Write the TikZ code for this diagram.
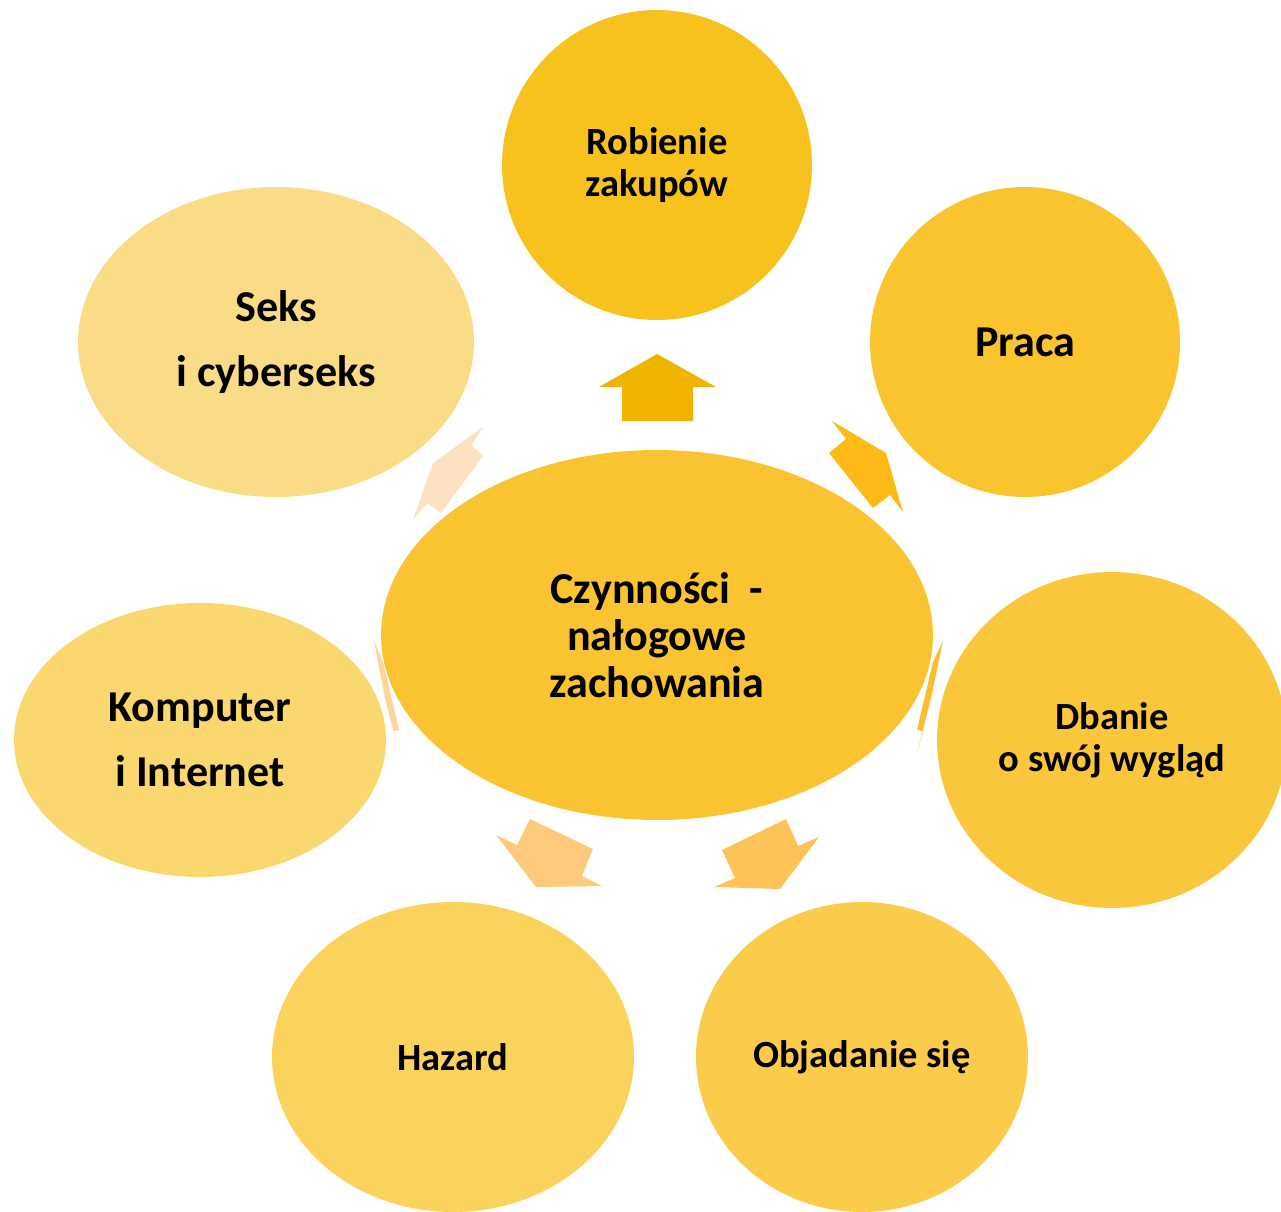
\documentclass[tikz,border=0pt]{standalone}
\usepackage{fontspec}
\setmainfont{Carlito}
\usetikzlibrary{shapes.geometric}

\definecolor{zakupyfill}{HTML}{F8C21E}
\definecolor{pracafill}{HTML}{F9C42E}
\definecolor{wygladfill}{HTML}{FAC73C}
\definecolor{objadfill}{HTML}{FBCC4B}
\definecolor{hazardfill}{HTML}{FBD25C}
\definecolor{kompfill}{HTML}{FBD76F}
\definecolor{seksfill}{HTML}{FBDC86}
\definecolor{centerfill}{HTML}{FAC332}
\definecolor{arrA}{HTML}{F0B400}
\definecolor{arrB}{HTML}{FDBA17}
\definecolor{arrC}{HTML}{FDBC2E}
\definecolor{arrD}{HTML}{FDC258}
\definecolor{arrE}{HTML}{FDC97A}
\definecolor{arrF}{HTML}{FDD49C}
\definecolor{arrG}{HTML}{FDE1C0}

\tikzset{
  bubble/.style={ellipse, inner sep=0pt, align=center, text=black,
    font=\bfseries\fontsize{25.1}{26.7}\selectfont},
  smalltext/.style={font=\bfseries\fontsize{21.9}{23.8}\selectfont},
}

\begin{document}
\begin{tikzpicture}[x=0.02cm,y=-0.02cm]
    \useasboundingbox (0,0) rectangle (1281,1211);
    \clip (0,0) rectangle (1281,1211);

    % Define nodes
    \node[bubble, smalltext, fill=zakupyfill, minimum width=6.2cm, minimum height=6.2cm] (zakupy) at (657,165) {Robienie\\zakupów};
    \node[bubble, fill=pracafill, minimum width=6.2cm, minimum height=6.2cm] (praca) at (1025,342) {Praca};
    \node[bubble, smalltext, fill=wygladfill, minimum width=7cm, minimum height=6.72cm] (wyglad) at (1112,740) {Dbanie\\o swój wygląd};
    \node[bubble, smalltext, fill=objadfill, minimum width=6.64cm, minimum height=6.2cm] (objadanie) at (862,1057) {Objadanie się};
    \node[bubble, smalltext, fill=hazardfill, minimum width=7.24cm, minimum height=6.2cm] (hazard) at (453,1057) {Hazard};
    \node[bubble, fill=kompfill, minimum width=7.44cm, minimum height=5.48cm] (komputer) at (200,740) {Komputer\\[10pt]i Internet};
    \node[bubble, fill=seksfill, minimum width=7.92cm, minimum height=6.2cm] (seks) at (276,342) {Seks\\[10pt]i cyberseks};
    \node[bubble, fill=centerfill, minimum width=11.04cm, minimum height=7.4cm] (czynnosci) at (657,635) {Czynności\ \ -\\nałogowe\\zachowania};

    % Arrows
    \fill[arrA] (657,354) -- (716,387) -- (693,387) -- (693,421) -- (622,421) -- (622,387) -- (599,387) -- cycle;
    \fill[arrB] (886,453) -- (832,421) -- (846,439) -- (829,453) -- (873,508) -- (890,495) -- (903,512) -- cycle;
    \fill[arrC] (943,641) -- (933,662) -- (917,730) -- (923,731) -- (917,753) -- (931,698) -- cycle;
    \fill[arrD] (786,819) -- (798,846) -- (819,837) -- (780,889) -- (714,887) -- (735,878) -- (722,850) -- cycle;
    \fill[arrE] (496,835) -- (517,845) -- (530,819) -- (593,849) -- (582,876) -- (602,886) -- (536,887) -- cycle;
    \fill[arrF] (374,641) -- (383,662) -- (399,730) -- (393,731) -- (399,753) -- (385,698) -- cycle;
    \fill[arrG] (483,427) -- (471,445) -- (483,456) -- (441,513) -- (427,503) -- (413,520) -- (433,463) -- cycle;
\end{tikzpicture}
\end{document}
